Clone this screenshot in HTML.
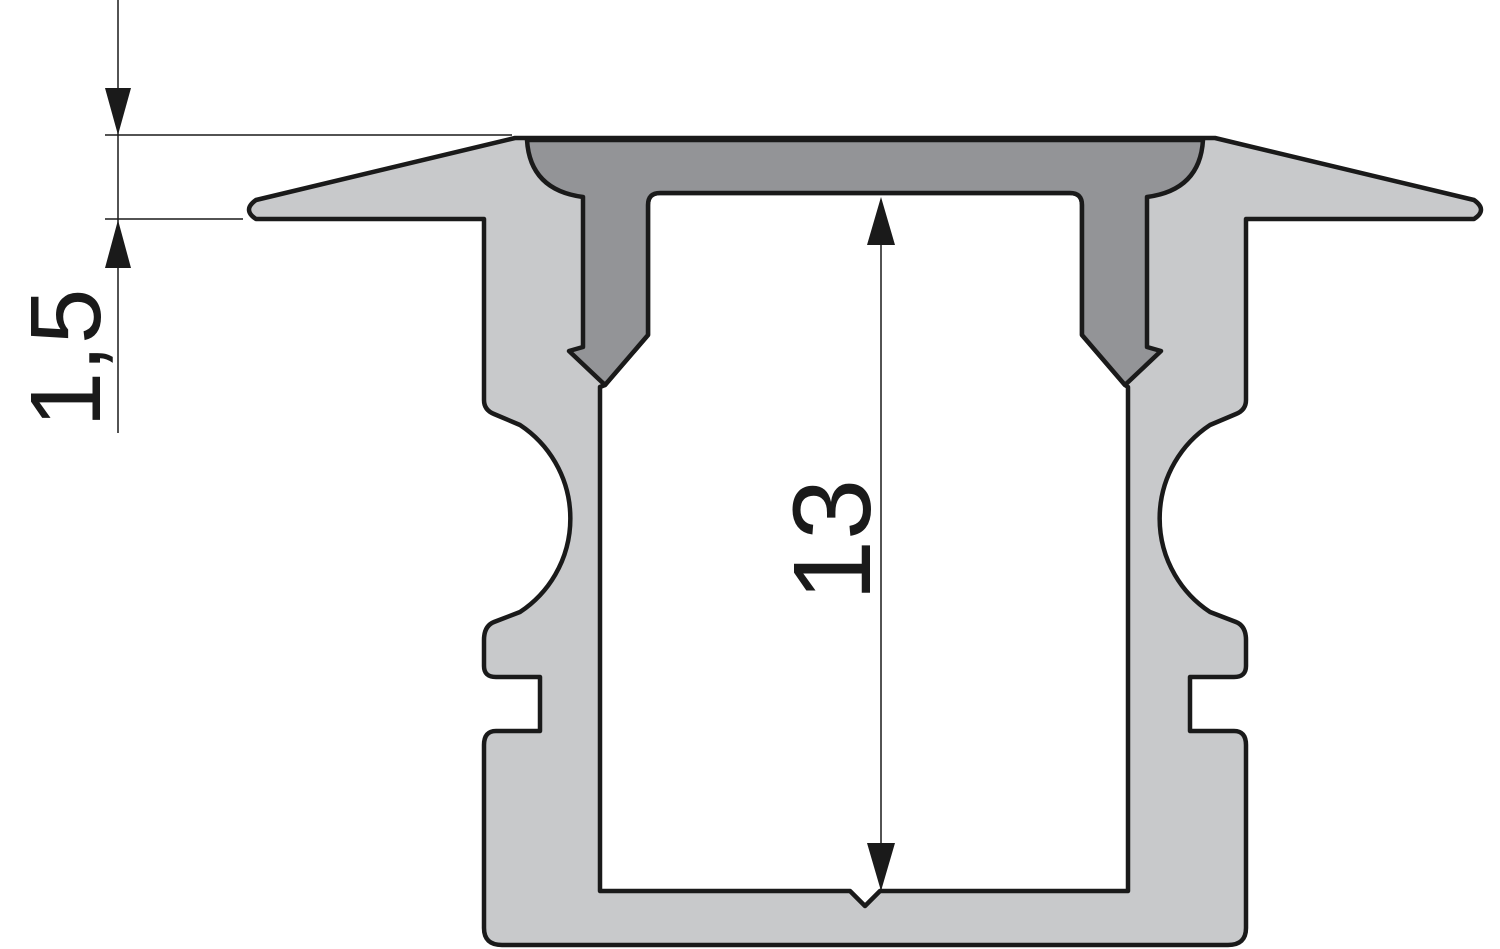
<!DOCTYPE html>
<html><head><style>html,body{margin:0;padding:0;background:#fff}svg{display:block}</style></head>
<body>
<svg width="1500" height="949" viewBox="0 0 1500 949" xmlns="http://www.w3.org/2000/svg">
<g stroke="#1a1a1a" stroke-width="4.5" stroke-linejoin="round">
<!-- outer profile -->
<path fill="#c8c9cb" d="M515,138 L1215,138 L1474,200 Q1488,210 1474,219 L1246,219 L1246,400 Q1246,410 1236,414 L1210,425 A112,112 0 0 0 1210,612 L1236,622 Q1246,626 1246,640 L1246,666 Q1246,677 1234,677 L1190,677 L1190,731 L1234,731 Q1246,731 1246,745 L1246,928 Q1246,945 1228,945 L502,945 Q484,945 484,928 L484,745 Q484,731 496,731 L540,731 L540,677 L496,677 Q484,677 484,666 L484,640 Q484,626 494,622 L520,612 A112,112 0 0 0 520,425 L494,414 Q484,410 484,400 L484,219 L256,219 Q242,210 256,200 Z"/>
<!-- channel -->
<path fill="#fff" d="M600,891 L600,387 L605,385 L648,335 L648,205 Q648,193 660,193 L1070,193 Q1082,193 1082,205 L1082,335 L1125,385 L1128,387 L1128,891 L880,891 L865,906 L850,891 Z"/>
<!-- cover -->
<path fill="#939497" d="M527,140 L1203,140 Q1200,190 1147,197 L1147,347 L1161,351 L1125,385 L1082,335 L1082,205 Q1082,193 1070,193 L660,193 Q648,193 648,205 L648,335 L605,385 L569,351 L583,347 L583,197 Q530,190 527,140 Z"/>
</g>
<g stroke="#1a1a1a" stroke-width="1.5" fill="none">
<line x1="118" y1="0" x2="118" y2="433"/>
<line x1="105" y1="135" x2="512" y2="135"/>
<line x1="105" y1="219" x2="243" y2="219"/>
<line x1="881" y1="200" x2="881" y2="889"/>
</g>
<g fill="#1a1a1a">
<polygon points="105,88 131,88 118,135"/>
<polygon points="105,268 131,268 118,220"/>
<polygon points="867,245 895,245 881,197"/>
<polygon points="867,843 895,843 881,891"/>
</g>
<text transform="translate(100,358) rotate(-90)" text-anchor="middle" font-family="Liberation Sans, sans-serif" font-size="100" fill="#1a1a1a">1,5</text>
<text transform="translate(870,540) rotate(-90)" text-anchor="middle" font-family="Liberation Sans, sans-serif" font-size="110" fill="#1a1a1a">13</text>
</svg>
</body></html>
